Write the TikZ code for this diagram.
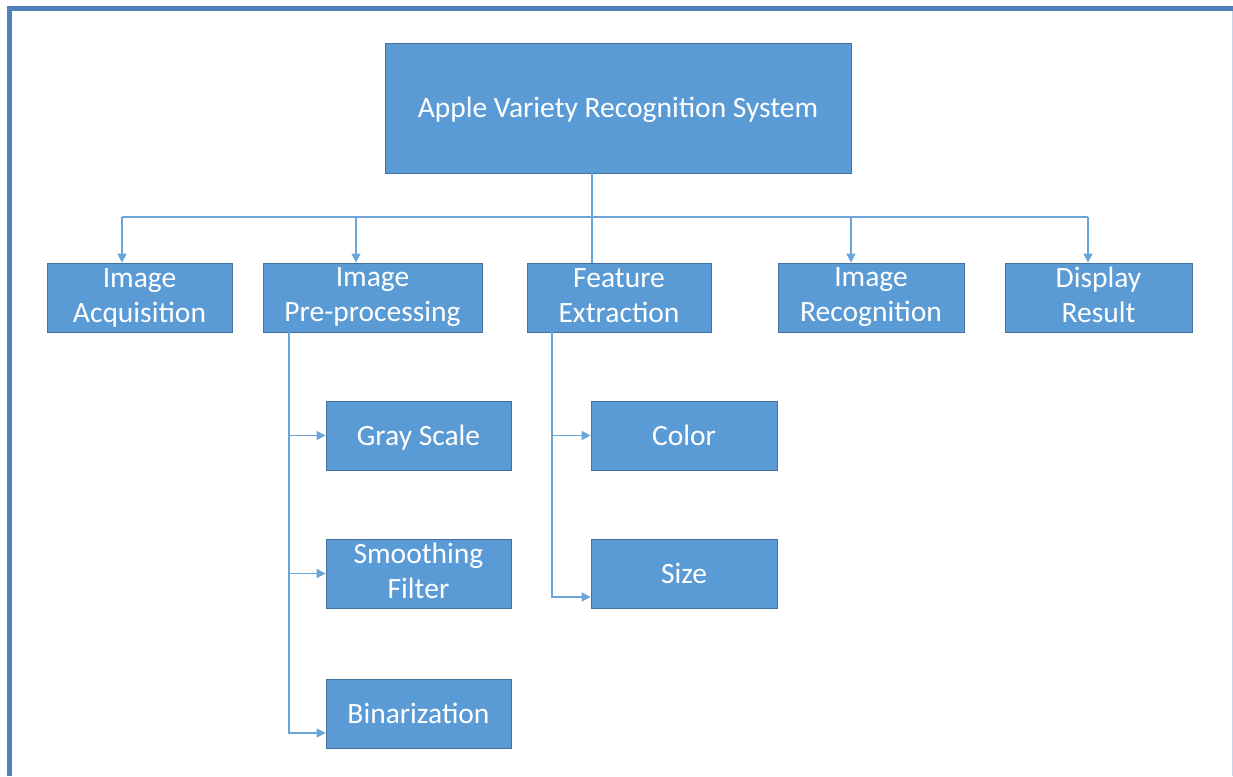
\documentclass[tikz,border=0pt]{standalone}
\usepackage{fontspec}
\setmainfont{Carlito}
\usetikzlibrary{arrows.meta}
\definecolor{boxfill}{HTML}{5B9BD5}
\definecolor{boxline}{HTML}{41719C}
\definecolor{linkcol}{HTML}{6AA5DA}
\definecolor{framecol}{HTML}{4F81BD}
\definecolor{edgecol}{HTML}{C9D6EA}
\newcommand{\boxstrut}{\rule[-4.5pt]{0pt}{29pt}}
\begin{document}
\begin{tikzpicture}[x=1pt,y=-1pt,
    block/.style={draw=boxline,line width=0.8pt,fill=boxfill,text=white,inner sep=0pt,
      align=center,font=\fontsize{29.5}{35}\selectfont,
      execute at begin node=\boxstrut,execute at end node=\boxstrut},
    link/.style={draw=linkcol,line width=1.4pt},
    arrow/.style={link,-{Triangle[length=9pt,width=9pt]}}]
      \useasboundingbox (0,0) rectangle (1233,776);
      \fill[white] (0,0) rectangle (1233,776);

      % frame
      \draw[framecol,line width=5pt] (9.5,776) -- (9.5,9) -- (1233,9);
      \draw[edgecol,line width=1pt] (1232,11) -- (1232,776);

      \node[block,minimum width=466pt,minimum height=130pt] (sys) at (618,108) {Apple Variety Recognition System};

      \node[block,minimum width=185pt,minimum height=69pt] (acq) at (139.5,297.5) {Image\\Acquisition};
      \node[block,minimum width=219pt,minimum height=69pt] (pre) at (372.5,297.5) {Image\\Pre-processing};
      \node[block,minimum width=184pt,minimum height=69pt] (fea) at (619,297.5) {Feature\\Extraction};
      \node[block,minimum width=186pt,minimum height=69pt] (rec) at (871,297.5) {Image\\Recognition};
      \node[block,minimum width=187pt,minimum height=69pt] (res) at (1098.5,297.5) {Display\\Result};

      \node[block,minimum width=185pt,minimum height=69pt] (gray) at (418.5,435.5) {Gray Scale};
      \node[block,minimum width=185pt,minimum height=69pt] (smooth) at (418.5,573.5) {Smoothing\\Filter};
      \node[block,minimum width=185pt,minimum height=69pt] (bin) at (418.5,713.5) {Binarization};

      \node[block,minimum width=186pt,minimum height=69pt] (color) at (684,435.5) {Color};
      \node[block,minimum width=186pt,minimum height=69pt] (size) at (684,573.5) {Size};

      % main tree
      \coordinate (trunk) at (592,217);
      \coordinate (jacq) at (122,217);
      \coordinate (jpre) at (356,217);
      \coordinate (jrec) at (851,217);
      \coordinate (jres) at (1088,217);
      \draw[link] (sys.south -| trunk) -- (fea.north -| trunk);
      \draw[link] (jacq) -- (jres);
      \foreach \j/\b in {jacq/acq,jpre/pre,jrec/rec,jres/res} {
        \draw[arrow] (\j) -- (\j |- \b.north);
      }

      % pre-processing branch
      \coordinate (ppend) at (289,733);
      \draw[arrow] (pre.south -| ppend) -- (ppend) -- (ppend -| bin.west);
      \draw[arrow] (ppend |- gray.west) -- (gray.west);
      \draw[arrow] (ppend |- smooth.west) -- (smooth.west);

      % feature branch
      \coordinate (feend) at (552,597);
      \draw[arrow] (fea.south -| feend) -- (feend) -- (feend -| size.west);
      \draw[arrow] (feend |- color.west) -- (color.west);
    \end{tikzpicture}
\end{document}
